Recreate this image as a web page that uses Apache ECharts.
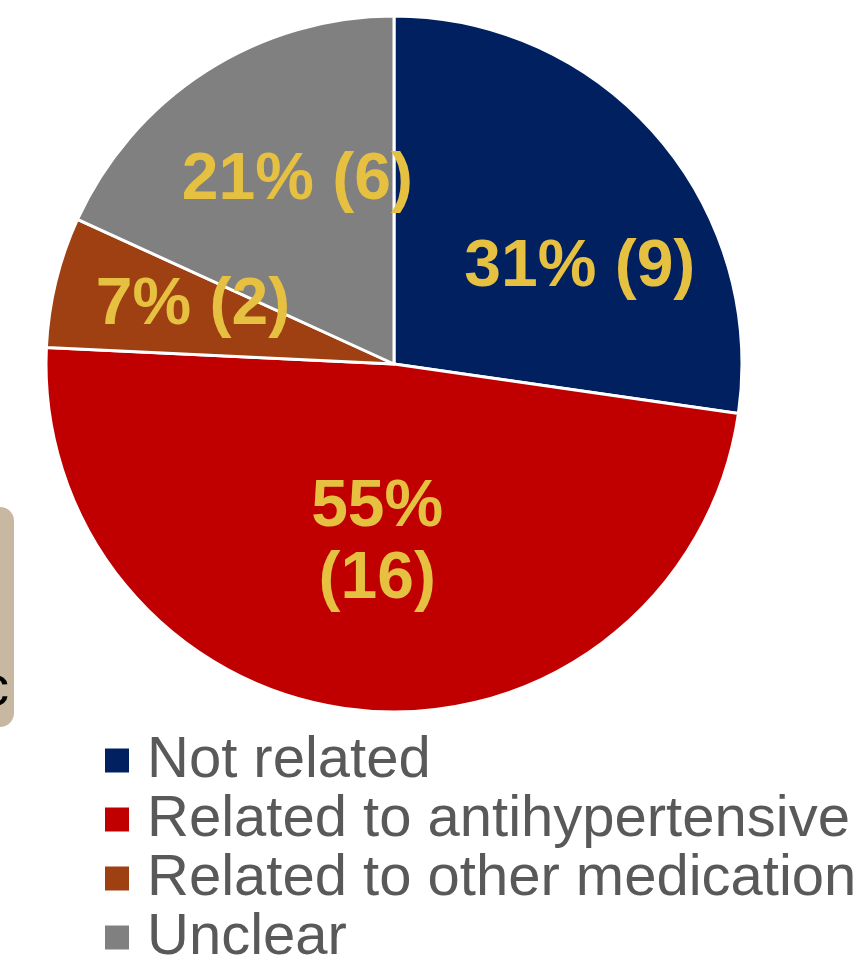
<!DOCTYPE html>
<html>
<head>
<meta charset="utf-8">
<script src="https://cdn.jsdelivr.net/npm/echarts@6/dist/echarts.min.js"></script>
<style>
  html, body { margin: 0; padding: 0; background: #fff; }
  #chart { width: 864px; height: 961px; }
</style>
</head>
<body>
<div id="chart"></div>
<script>
// categories and values
const categories = ["Not related", "Related to antihypertensive", "Related to other medication", "Unclear"];
const counts = [9, 16, 2, 6];
// percent text as printed on the slides
const percentLabels = ["31%", "55%", "7%", "21%"];
const colors = ["#002060", "#C00000", "#9E4012", "#808080"];

// label nudges from the default inside position
const labelOffsets = [[52, 20], [0, 4], [-29, -16], [-1, -34]];

const chart = echarts.init(document.getElementById("chart"));

const pieData = categories.map((name, i) => ({
  name: name,
  value: counts[i],
  itemStyle: { color: colors[i] },
  label: {
    offset: labelOffsets[i],
    // the red slice label wraps onto two lines
    formatter: i === 1 ? percentLabels[i] + "\n(" + counts[i] + ")" : percentLabels[i] + " (" + counts[i] + ")"
  }
}));

const option = {
  animation: false,
  legend: {
    orient: "vertical",
    left: 98,
    top: 726,
    height: 245,
    icon: "rect",
    itemWidth: 26,
    itemHeight: 26,
    itemGap: 0,
    textStyle: {
      fontFamily: "Liberation Sans",
      fontSize: 58,
      lineHeight: 59,
      color: "#595959",
      padding: [0, 0, 0, 12]
    },
    data: categories
  },
  graphic: [
    {
      // cut-off box at the left edge
      type: "rect",
      shape: { x: -30, y: 507, width: 44, height: 220, r: 14 },
      style: { fill: "#C8B7A1" }
    },
    {
      type: "text",
      left: -19,
      top: 662,
      style: { text: "c", font: "56px 'Liberation Sans'", fill: "#000" }
    }
  ],
  series: [
    {
      type: "pie",
      center: [394, 364],
      radius: 348,
      startAngle: 90,
      clockwise: true,
      itemStyle: { borderColor: "#fff", borderWidth: 3 },
      label: {
        show: true,
        position: "inside",
        color: "#E6C041",
        fontFamily: "Liberation Sans",
        fontWeight: "bold",
        fontSize: 66,
        lineHeight: 72
      },
      labelLine: { show: false },
      emphasis: { disabled: true },
      data: pieData
    }
  ]
};

chart.setOption(option);
</script>
</body>
</html>
